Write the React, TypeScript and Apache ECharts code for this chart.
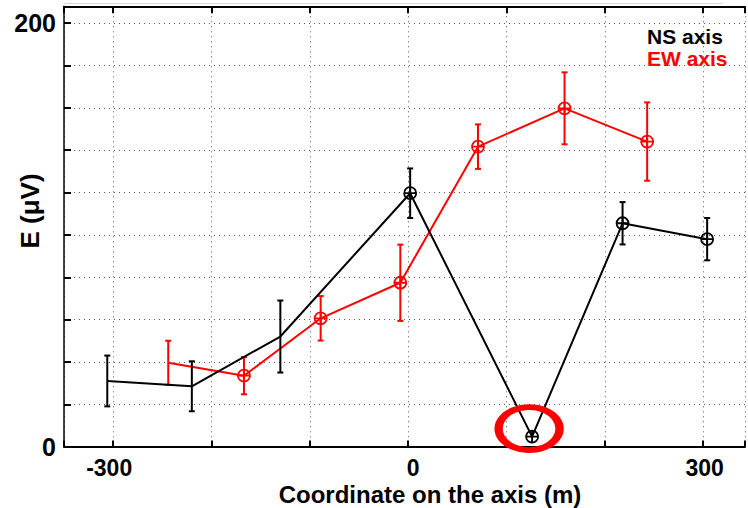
import React, { useEffect, useRef } from "react";
import * as echarts from "echarts";

// NS axis (black)
const nsX = [-306, -220, -130, 2, 126, 218, 304];
const nsY = [31, 28.5, 52, 119.7, 4.7, 105.5, 98];
const nsErr = [12, 11.8, 17, 11.7, 0, 10, 10];
const nsMarker = [false, false, false, true, true, true, true];

// EW axis (red)
const ewX = [-244, -167, -89, -8, 71, 159, 243];
const ewY = [39.6, 33.5, 60.6, 77.4, 141.7, 159.8, 144.1];
const ewErr = [10.4, 8.8, 10.5, 18, 10.5, 17, 18.5];
const ewMarker = [false, true, true, true, true, true, true];

const xTickLabels = [-300, 0, 300];
const yTickLabels = [0, 200];
const highlightIndex = 4;

const FONT = "'Liberation Sans', Arial, sans-serif";
const MARKER =
  "path://M0,-1 A1,1 0 1,1 0,1 A1,1 0 1,1 0,-1 Z M-1,0 L1,0 M0,-1 L0,1";

function lineData(xs: number[], ys: number[], marks: boolean[]) {
  return xs.map((x, i) =>
    marks[i] ? { value: [x, ys[i]] } : { value: [x, ys[i]], symbol: "none" }
  );
}

function errData(xs: number[], ys: number[], es: number[]) {
  return xs.map((x, i) => [x, ys[i], es[i]]);
}

function errRender(color: string) {
  return (params: any, api: any) => {
    const x = api.value(0);
    const y = api.value(1);
    const e = api.value(2);
    if (!e) return null;
    const top = api.coord([x, y + e]);
    const bot = api.coord([x, y - e]);
    const hw = 3;
    const style = { stroke: color, lineWidth: 2 };
    return {
      type: "group",
      children: [
        { type: "line", shape: { x1: top[0], y1: top[1], x2: bot[0], y2: bot[1] }, style },
        { type: "line", shape: { x1: top[0] - hw, y1: top[1], x2: top[0] + hw, y2: top[1] }, style },
        { type: "line", shape: { x1: bot[0] - hw, y1: bot[1], x2: bot[0] + hw, y2: bot[1] }, style },
      ],
    };
  };
}

function xLabel(v: number) {
  if (!xTickLabels.includes(v)) return "";
  if (v < 0) return `{l|${v}}`;
  if (v === 0) return `{z|${v}}`;
  return `{n|${v}}`;
}

export default function App() {
  const ref = useRef<HTMLDivElement>(null);
  useEffect(() => {
    if (!ref.current) return;
    const chart = echarts.init(ref.current, undefined, { renderer: "svg" });
    const grid = { left: 64, right: 0, top: 6.3, bottom: 61.4 };
    const dotted = { color: "#555", width: 1, type: [1, 4] as any };
    const labelText = {
      color: "#000",
      fontFamily: FONT,
      fontWeight: "bold" as const,
      fontSize: 25,
      lineHeight: 20,
    };
    const xLabelText = { ...labelText, fontSize: 23 };
    const xCommon = {
      type: "value" as const,
      min: -350,
      max: 342.5,
      splitNumber: 7,
      minInterval: 100,
      maxInterval: 100,
    };
    chart.setOption({
      animation: false,
      grid,
      xAxis: [
        {
          ...xCommon,
          position: "bottom",
          axisLine: { show: true, onZero: false, lineStyle: { color: "#000", width: 2 } },
          axisTick: { show: true, inside: true, length: 6, lineStyle: { color: "#000", width: 2 } },
          axisLabel: {
            ...xLabelText,
            margin: 11,
            formatter: xLabel,
            rich: {
              l: { ...xLabelText, padding: [0, 8, 0, 0] },
              z: { ...xLabelText, padding: [0, 0, 0, 10] },
              n: { ...xLabelText, padding: [0, 0, 0, 3] },
            },
          },
          splitLine: { show: true, lineStyle: dotted },
        },
        {
          ...xCommon,
          position: "top",
          axisLine: { show: true, onZero: false, lineStyle: { color: "#000", width: 2 } },
          axisTick: { show: true, inside: true, length: 7, lineStyle: { color: "#000", width: 2 } },
          axisLabel: { show: false },
          splitLine: { show: false },
        },
      ],
      yAxis: {
        type: "value",
        min: 0,
        max: 208,
        interval: 20,
        axisLine: { show: true, onZero: false, lineStyle: { color: "#000", width: 1.5 } },
        axisTick: { show: true, inside: true, length: 7, lineStyle: { color: "#000", width: 2 } },
        axisLabel: {
          ...labelText,
          margin: 8,
          formatter: (v: number) => (yTickLabels.includes(v) ? String(v) : ""),
        },
        splitLine: { show: true, lineStyle: dotted },
      },
      series: [
        {
          type: "custom",
          name: "EW err",
          xAxisIndex: 0,
          renderItem: errRender("#ff0000"),
          encode: { x: 0, y: 1 },
          data: errData(ewX, ewY, ewErr),
          z: 3,
        },
        {
          type: "line",
          name: "EW axis",
          xAxisIndex: 0,
          data: lineData(ewX, ewY, ewMarker),
          symbol: MARKER,
          symbolSize: 12,
          lineStyle: { color: "#ff0000", width: 2 },
          itemStyle: { color: "transparent", borderColor: "#ff0000", borderWidth: 1.8 },
          z: 4,
        },
        {
          type: "custom",
          name: "NS err",
          xAxisIndex: 0,
          renderItem: errRender("#000000"),
          encode: { x: 0, y: 1 },
          data: errData(nsX, nsY, nsErr),
          z: 5,
        },
        {
          type: "line",
          name: "NS axis",
          xAxisIndex: 0,
          data: lineData(nsX, nsY, nsMarker),
          symbol: MARKER,
          symbolSize: 12,
          lineStyle: { color: "#000000", width: 2 },
          itemStyle: { color: "transparent", borderColor: "#000000", borderWidth: 1.8 },
          z: 6,
          markPoint: {
            symbol: "circle",
            symbolSize: [61, 43],
            symbolOffset: [-3, -8],
            itemStyle: { color: "transparent", borderColor: "#ff0000", borderWidth: 7 },
            label: { show: false },
            data: [{ coord: [nsX[highlightIndex], nsY[highlightIndex]] }],
            z: 10,
          },
        },
      ],
      graphic: [
        {
          type: "line",
          shape: { x1: 64, y1: 3.5, x2: 723, y2: 3.5 },
          style: { stroke: "#d8d8d8", lineWidth: 1 },
          silent: true,
        },
        {
          type: "text",
          x: 647,
          y: 36,
          style: {
            text: "NS axis",
            fill: "#000",
            font: `bold 21px ${FONT}`,
            align: "left",
            verticalAlign: "middle",
          },
        },
        {
          type: "text",
          x: 647,
          y: 58.5,
          style: {
            text: "EW axis",
            fill: "#ff0000",
            font: `bold 21px ${FONT}`,
            align: "left",
            verticalAlign: "middle",
          },
        },
        {
          type: "text",
          x: 430,
          y: 494,
          style: {
            text: "Coordinate on the axis (m)",
            fill: "#000",
            font: `bold 24px ${FONT}`,
            lineHeight: 20,
            align: "center",
            verticalAlign: "middle",
          },
        },
        {
          type: "text",
          x: 30,
          y: 211,
          rotation: Math.PI / 2,
          style: {
            text: "E (μV)",
            fill: "#000",
            font: `bold 26px ${FONT}`,
            align: "center",
            verticalAlign: "middle",
          },
        },
      ],
    });
    return () => chart.dispose();
  }, []);
  return (
    <div
      ref={ref}
      style={{ position: "fixed", left: 0, top: 0, width: 748, height: 508, background: "#fff" }}
    />
  );
}
